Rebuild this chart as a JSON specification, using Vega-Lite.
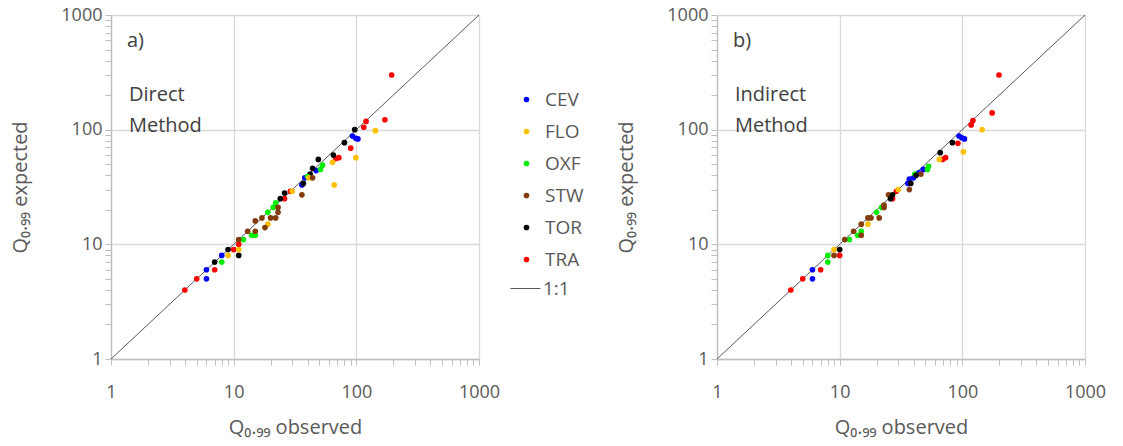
{
  "$schema": "https://vega.github.io/schema/vega-lite/v6.json",
  "background": "white",
  "padding": {"left": 10, "top": 6, "right": 5, "bottom": 2},
  "config": {
    "font": "Open Sans",
    "view": {"stroke": null},
    "axis": {
      "values": [1,2,3,4,5,6,7,8,9,10,20,30,40,50,60,70,80,90,100,200,300,400,500,600,700,800,900,1000],
      "labelExpr": "(datum.value === 1 || datum.value === 10 || datum.value === 100 || datum.value === 1000) ? format(datum.value, 'd') : ''",
      "gridColor": "#d9d9d9",
      "gridWidth": 1.3,
      "gridOpacity": {"condition": {"test": "datum.value === 1 || datum.value === 10 || datum.value === 100 || datum.value === 1000", "value": 1}, "value": 0},
      "domainColor": "#bfbfbf",
      "domainWidth": 1.3,
      "tickColor": "#bfbfbf",
      "tickWidth": 1,
      "tickSize": 6,
      "labelFontSize": 18,
      "labelColor": "#595959",
      "labelPadding": 3,
      "labelOverlap": false,
      "labelFlush": false,
      "titleFontSize": 20,
      "titleFontWeight": "normal",
      "titleColor": "#595959"
    },
    "axisX": {"labelPadding": 18, "titlePadding": 16},
    "axisY": {"titlePadding": 30}
  },
  "datasets": {
    "diag": [{"obs": 1, "exp": 1}, {"obs": 1000, "exp": 1000}],
    "pts": [
      {"method": "Direct", "station": "TRA", "obs": 4, "exp": 4},
      {"method": "Direct", "station": "TRA", "obs": 5, "exp": 5},
      {"method": "Direct", "station": "TRA", "obs": 7, "exp": 6},
      {"method": "Direct", "station": "TRA", "obs": 10, "exp": 9},
      {"method": "Direct", "station": "TRA", "obs": 11, "exp": 10},
      {"method": "Direct", "station": "TRA", "obs": 26, "exp": 25},
      {"method": "Direct", "station": "TRA", "obs": 29, "exp": 29},
      {"method": "Direct", "station": "TRA", "obs": 68, "exp": 56},
      {"method": "Direct", "station": "TRA", "obs": 72, "exp": 57},
      {"method": "Direct", "station": "TRA", "obs": 90, "exp": 69},
      {"method": "Direct", "station": "TRA", "obs": 115, "exp": 105},
      {"method": "Direct", "station": "TRA", "obs": 120, "exp": 118},
      {"method": "Direct", "station": "TRA", "obs": 171, "exp": 122},
      {"method": "Direct", "station": "TRA", "obs": 194, "exp": 300},
      {"method": "Direct", "station": "CEV", "obs": 6, "exp": 6},
      {"method": "Direct", "station": "CEV", "obs": 6, "exp": 5},
      {"method": "Direct", "station": "CEV", "obs": 8, "exp": 8},
      {"method": "Direct", "station": "CEV", "obs": 36, "exp": 33},
      {"method": "Direct", "station": "CEV", "obs": 38, "exp": 38},
      {"method": "Direct", "station": "CEV", "obs": 47, "exp": 44},
      {"method": "Direct", "station": "CEV", "obs": 93, "exp": 88},
      {"method": "Direct", "station": "CEV", "obs": 99, "exp": 84},
      {"method": "Direct", "station": "CEV", "obs": 103, "exp": 83},
      {"method": "Direct", "station": "TOR", "obs": 7, "exp": 7},
      {"method": "Direct", "station": "TOR", "obs": 9, "exp": 9},
      {"method": "Direct", "station": "TOR", "obs": 11, "exp": 8},
      {"method": "Direct", "station": "TOR", "obs": 24, "exp": 25},
      {"method": "Direct", "station": "TOR", "obs": 26, "exp": 28},
      {"method": "Direct", "station": "TOR", "obs": 37, "exp": 34},
      {"method": "Direct", "station": "TOR", "obs": 42, "exp": 41},
      {"method": "Direct", "station": "TOR", "obs": 44, "exp": 46},
      {"method": "Direct", "station": "TOR", "obs": 49, "exp": 55},
      {"method": "Direct", "station": "TOR", "obs": 65, "exp": 60},
      {"method": "Direct", "station": "TOR", "obs": 80, "exp": 77},
      {"method": "Direct", "station": "TOR", "obs": 97, "exp": 100},
      {"method": "Direct", "station": "OXF", "obs": 8, "exp": 7},
      {"method": "Direct", "station": "OXF", "obs": 12, "exp": 11},
      {"method": "Direct", "station": "OXF", "obs": 14, "exp": 12},
      {"method": "Direct", "station": "OXF", "obs": 15, "exp": 12},
      {"method": "Direct", "station": "OXF", "obs": 19, "exp": 19},
      {"method": "Direct", "station": "OXF", "obs": 21, "exp": 21},
      {"method": "Direct", "station": "OXF", "obs": 22, "exp": 23},
      {"method": "Direct", "station": "OXF", "obs": 40, "exp": 39},
      {"method": "Direct", "station": "OXF", "obs": 51, "exp": 45},
      {"method": "Direct", "station": "OXF", "obs": 53, "exp": 49},
      {"method": "Direct", "station": "FLO", "obs": 9, "exp": 8},
      {"method": "Direct", "station": "FLO", "obs": 11, "exp": 9},
      {"method": "Direct", "station": "FLO", "obs": 19, "exp": 15},
      {"method": "Direct", "station": "FLO", "obs": 30, "exp": 29},
      {"method": "Direct", "station": "FLO", "obs": 41, "exp": 38},
      {"method": "Direct", "station": "FLO", "obs": 64, "exp": 52},
      {"method": "Direct", "station": "FLO", "obs": 66, "exp": 33},
      {"method": "Direct", "station": "FLO", "obs": 99, "exp": 57},
      {"method": "Direct", "station": "FLO", "obs": 143, "exp": 98},
      {"method": "Direct", "station": "STW", "obs": 11, "exp": 11},
      {"method": "Direct", "station": "STW", "obs": 13, "exp": 13},
      {"method": "Direct", "station": "STW", "obs": 15, "exp": 13},
      {"method": "Direct", "station": "STW", "obs": 15, "exp": 16},
      {"method": "Direct", "station": "STW", "obs": 17, "exp": 17},
      {"method": "Direct", "station": "STW", "obs": 18, "exp": 14},
      {"method": "Direct", "station": "STW", "obs": 20, "exp": 17},
      {"method": "Direct", "station": "STW", "obs": 22, "exp": 17},
      {"method": "Direct", "station": "STW", "obs": 23, "exp": 19},
      {"method": "Direct", "station": "STW", "obs": 23, "exp": 21},
      {"method": "Direct", "station": "STW", "obs": 36, "exp": 27},
      {"method": "Direct", "station": "STW", "obs": 44, "exp": 38},
      {"method": "Indirect", "station": "TRA", "obs": 4, "exp": 4},
      {"method": "Indirect", "station": "TRA", "obs": 5, "exp": 5},
      {"method": "Indirect", "station": "TRA", "obs": 7, "exp": 6},
      {"method": "Indirect", "station": "TRA", "obs": 10, "exp": 8},
      {"method": "Indirect", "station": "TRA", "obs": 27, "exp": 25},
      {"method": "Indirect", "station": "TRA", "obs": 29, "exp": 29},
      {"method": "Indirect", "station": "TRA", "obs": 69, "exp": 55},
      {"method": "Indirect", "station": "TRA", "obs": 73, "exp": 57},
      {"method": "Indirect", "station": "TRA", "obs": 92, "exp": 76},
      {"method": "Indirect", "station": "TRA", "obs": 118, "exp": 110},
      {"method": "Indirect", "station": "TRA", "obs": 122, "exp": 120},
      {"method": "Indirect", "station": "TRA", "obs": 175, "exp": 140},
      {"method": "Indirect", "station": "TRA", "obs": 199, "exp": 300},
      {"method": "Indirect", "station": "CEV", "obs": 6, "exp": 6},
      {"method": "Indirect", "station": "CEV", "obs": 6, "exp": 5},
      {"method": "Indirect", "station": "CEV", "obs": 36, "exp": 34},
      {"method": "Indirect", "station": "CEV", "obs": 37, "exp": 37},
      {"method": "Indirect", "station": "CEV", "obs": 40, "exp": 38},
      {"method": "Indirect", "station": "CEV", "obs": 44, "exp": 42},
      {"method": "Indirect", "station": "CEV", "obs": 48, "exp": 45},
      {"method": "Indirect", "station": "CEV", "obs": 94, "exp": 88},
      {"method": "Indirect", "station": "CEV", "obs": 99, "exp": 85},
      {"method": "Indirect", "station": "CEV", "obs": 104, "exp": 83},
      {"method": "Indirect", "station": "OXF", "obs": 8, "exp": 7},
      {"method": "Indirect", "station": "OXF", "obs": 8, "exp": 8},
      {"method": "Indirect", "station": "OXF", "obs": 12, "exp": 11},
      {"method": "Indirect", "station": "OXF", "obs": 14, "exp": 12},
      {"method": "Indirect", "station": "OXF", "obs": 15, "exp": 13},
      {"method": "Indirect", "station": "OXF", "obs": 20, "exp": 19},
      {"method": "Indirect", "station": "OXF", "obs": 22, "exp": 21},
      {"method": "Indirect", "station": "OXF", "obs": 41, "exp": 41},
      {"method": "Indirect", "station": "OXF", "obs": 52, "exp": 45},
      {"method": "Indirect", "station": "OXF", "obs": 53, "exp": 48},
      {"method": "Indirect", "station": "STW", "obs": 9, "exp": 8},
      {"method": "Indirect", "station": "STW", "obs": 11, "exp": 11},
      {"method": "Indirect", "station": "STW", "obs": 13, "exp": 13},
      {"method": "Indirect", "station": "STW", "obs": 15, "exp": 12},
      {"method": "Indirect", "station": "STW", "obs": 15, "exp": 15},
      {"method": "Indirect", "station": "STW", "obs": 17, "exp": 17},
      {"method": "Indirect", "station": "STW", "obs": 18, "exp": 17},
      {"method": "Indirect", "station": "STW", "obs": 21, "exp": 17},
      {"method": "Indirect", "station": "STW", "obs": 23, "exp": 21},
      {"method": "Indirect", "station": "STW", "obs": 23, "exp": 22},
      {"method": "Indirect", "station": "STW", "obs": 25, "exp": 27},
      {"method": "Indirect", "station": "STW", "obs": 37, "exp": 30},
      {"method": "Indirect", "station": "STW", "obs": 46, "exp": 41},
      {"method": "Indirect", "station": "FLO", "obs": 9, "exp": 9},
      {"method": "Indirect", "station": "FLO", "obs": 17, "exp": 15},
      {"method": "Indirect", "station": "FLO", "obs": 30, "exp": 30},
      {"method": "Indirect", "station": "FLO", "obs": 65, "exp": 55},
      {"method": "Indirect", "station": "FLO", "obs": 102, "exp": 64},
      {"method": "Indirect", "station": "FLO", "obs": 145, "exp": 100},
      {"method": "Indirect", "station": "TOR", "obs": 10, "exp": 9},
      {"method": "Indirect", "station": "TOR", "obs": 26, "exp": 25},
      {"method": "Indirect", "station": "TOR", "obs": 27, "exp": 27},
      {"method": "Indirect", "station": "TOR", "obs": 38, "exp": 34},
      {"method": "Indirect", "station": "TOR", "obs": 42, "exp": 40},
      {"method": "Indirect", "station": "TOR", "obs": 66, "exp": 63},
      {"method": "Indirect", "station": "TOR", "obs": 83, "exp": 77}
    ]
  },
  "bounds": "flush",
  "spacing": 238,
  "resolve": {
    "scale": {"color": "independent", "stroke": "independent"},
    "legend": {"color": "independent", "stroke": "independent"}
  },
  "hconcat": [
    {
      "width": 368,
      "height": 344,
      "layer": [
        {
          "data": {"name": "diag"},
          "mark": {"type": "line", "strokeWidth": 1},
          "encoding": {
            "x": {"field": "obs", "type": "quantitative", "scale": {"type": "log", "domain": [1, 1000], "nice": false}, "axis": {"title": "Q₀.₉₉ observed"}},
            "y": {"field": "exp", "type": "quantitative", "scale": {"type": "log", "domain": [1, 1000], "nice": false}, "axis": {"title": "Q₀.₉₉ expected"}},
            "stroke": {
              "datum": "1:1",
              "scale": {"domain": ["1:1"], "range": ["#595959"]},
              "legend": {"orient": "none", "legendX": 399, "legendY": 258, "title": null, "labelFontSize": 19, "labelColor": "#595959", "labelOffset": 2, "padding": 0, "symbolSize": 900, "symbolStrokeWidth": 1}
            }
          }
        },
        {
          "data": {"name": "pts"},
          "transform": [{"filter": "datum.method === 'Direct'"}],
          "mark": {"type": "point", "filled": true, "opacity": 1, "size": 32},
          "encoding": {
            "x": {"field": "obs", "type": "quantitative", "scale": {"type": "log", "domain": [1, 1000], "nice": false}, "axis": {"title": "Q₀.₉₉ observed"}},
            "y": {"field": "exp", "type": "quantitative", "scale": {"type": "log", "domain": [1, 1000], "nice": false}, "axis": {"title": "Q₀.₉₉ expected"}},
            "color": {
              "field": "station", "type": "nominal",
              "scale": {"domain": ["CEV", "FLO", "OXF", "STW", "TOR", "TRA"], "range": ["#0000ff", "#ffc000", "#00ee00", "#843c0c", "#000000", "#ff0000"]},
              "legend": {"orient": "none", "legendX": 406, "legendY": 75, "title": null, "labelFontSize": 19, "labelColor": "#595959", "labelOffset": 9, "rowPadding": 12, "padding": 0, "symbolSize": 32}
            }
          }
        },
        {
          "data": {"values": [{"note": "a)"}]},
          "mark": {"type": "text", "align": "left", "baseline": "middle", "fontSize": 20, "color": "#404040"},
          "encoding": {
            "x": {"datum": 1.35, "type": "quantitative"},
            "y": {"datum": 592, "type": "quantitative"},
            "text": {"field": "note", "type": "nominal"}
          }
        },
        {
          "data": {"values": [{"note": "Direct"}, {"note": "Method"}]},
          "transform": [{"filter": "datum.note === 'Direct'"}],
          "mark": {"type": "text", "align": "left", "baseline": "middle", "fontSize": 20, "color": "#404040"},
          "encoding": {
            "x": {"datum": 1.4, "type": "quantitative"},
            "y": {"datum": 200, "type": "quantitative"},
            "text": {"field": "note", "type": "nominal"}
          }
        },
        {
          "data": {"values": [{"note": "Direct"}, {"note": "Method"}]},
          "transform": [{"filter": "datum.note === 'Method'"}],
          "mark": {"type": "text", "align": "left", "baseline": "middle", "fontSize": 20, "color": "#404040"},
          "encoding": {
            "x": {"datum": 1.4, "type": "quantitative"},
            "y": {"datum": 108, "type": "quantitative"},
            "text": {"field": "note", "type": "nominal"}
          }
        }
      ]
    },
    {
      "width": 368,
      "height": 344,
      "layer": [
        {
          "data": {"name": "diag"},
          "mark": {"type": "line", "color": "#595959", "strokeWidth": 1},
          "encoding": {
            "x": {"field": "obs", "type": "quantitative", "scale": {"type": "log", "domain": [1, 1000], "nice": false}, "axis": {"title": "Q₀.₉₉ observed"}},
            "y": {"field": "exp", "type": "quantitative", "scale": {"type": "log", "domain": [1, 1000], "nice": false}, "axis": {"title": "Q₀.₉₉ expected"}}
          }
        },
        {
          "data": {"name": "pts"},
          "transform": [{"filter": "datum.method === 'Indirect'"}],
          "mark": {"type": "point", "filled": true, "opacity": 1, "size": 32},
          "encoding": {
            "x": {"field": "obs", "type": "quantitative", "scale": {"type": "log", "domain": [1, 1000], "nice": false}, "axis": {"title": "Q₀.₉₉ observed"}},
            "y": {"field": "exp", "type": "quantitative", "scale": {"type": "log", "domain": [1, 1000], "nice": false}, "axis": {"title": "Q₀.₉₉ expected"}},
            "color": {
              "field": "station", "type": "nominal",
              "scale": {"domain": ["CEV", "FLO", "OXF", "STW", "TOR", "TRA"], "range": ["#0000ff", "#ffc000", "#00ee00", "#843c0c", "#000000", "#ff0000"]},
              "legend": null
            }
          }
        },
        {
          "data": {"values": [{"note": "b)"}]},
          "mark": {"type": "text", "align": "left", "baseline": "middle", "fontSize": 20, "color": "#404040"},
          "encoding": {
            "x": {"datum": 1.35, "type": "quantitative"},
            "y": {"datum": 592, "type": "quantitative"},
            "text": {"field": "note", "type": "nominal"}
          }
        },
        {
          "data": {"values": [{"note": "Indirect"}, {"note": "Method"}]},
          "transform": [{"filter": "datum.note === 'Indirect'"}],
          "mark": {"type": "text", "align": "left", "baseline": "middle", "fontSize": 20, "color": "#404040"},
          "encoding": {
            "x": {"datum": 1.4, "type": "quantitative"},
            "y": {"datum": 200, "type": "quantitative"},
            "text": {"field": "note", "type": "nominal"}
          }
        },
        {
          "data": {"values": [{"note": "Indirect"}, {"note": "Method"}]},
          "transform": [{"filter": "datum.note === 'Method'"}],
          "mark": {"type": "text", "align": "left", "baseline": "middle", "fontSize": 20, "color": "#404040"},
          "encoding": {
            "x": {"datum": 1.4, "type": "quantitative"},
            "y": {"datum": 108, "type": "quantitative"},
            "text": {"field": "note", "type": "nominal"}
          }
        }
      ]
    }
  ]
}
